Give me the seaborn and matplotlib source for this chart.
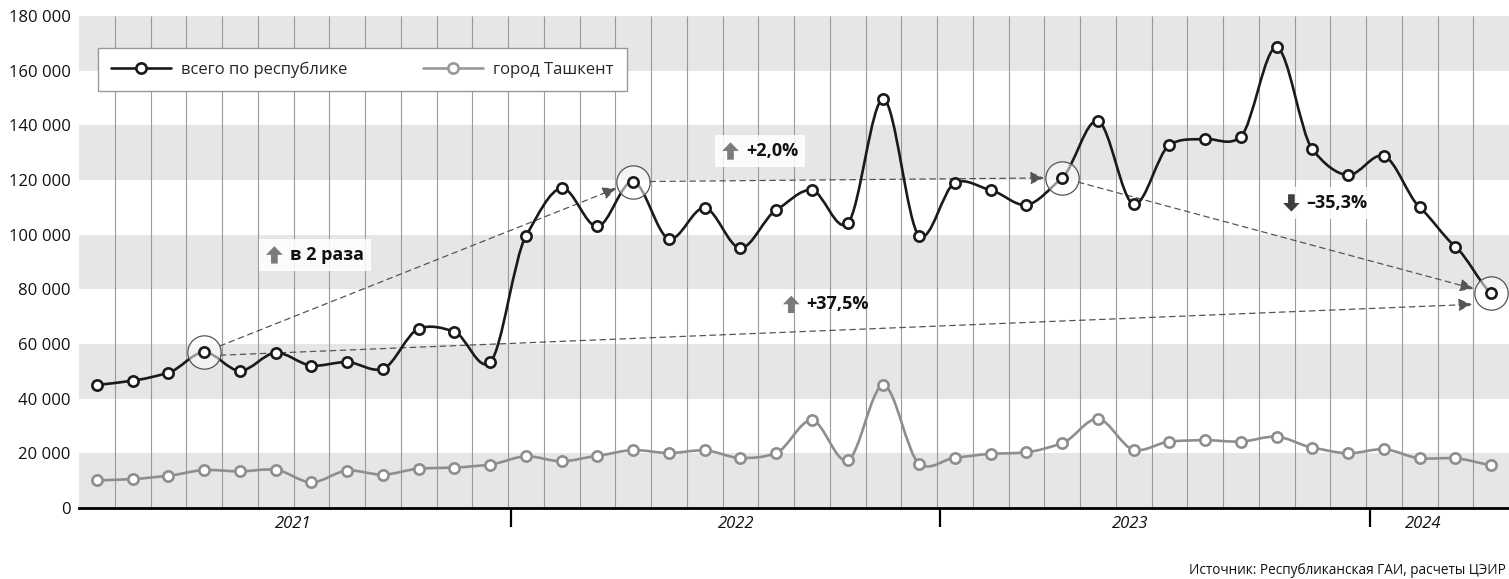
import numpy as np
import pandas as pd
import seaborn as sns
import matplotlib
matplotlib.use("Agg")
import matplotlib.pyplot as plt
from matplotlib.path import Path
from matplotlib.patches import PathPatch, Polygon
from matplotlib.lines import Line2D
from matplotlib.offsetbox import DrawingArea, TextArea, HPacker, AnnotationBbox
from matplotlib.ticker import FuncFormatter

# monthly values, Jan 2021 .. Apr 2024
total = [45000, 46600, 49500, 57000, 50200, 56800, 52100, 53400, 50900, 65600, 64500, 53300,
         99500, 117000, 103000, 119400, 98500, 109800, 95100, 109000, 116300, 104100, 149600, 99600,
         119000, 116300, 110900, 120800, 141600, 111100, 132800, 135000, 135900, 168500, 131200, 121800,
         128800, 110000, 95600, 78500]
tashkent = [10100, 10600, 11800, 13900, 13400, 14000, 9400, 13700, 12200, 14400, 14800, 15900,
            18900, 17100, 19100, 21200, 20100, 21100, 18300, 20100, 32100, 17400, 44900, 16200,
            18400, 19800, 20400, 23700, 32600, 21300, 24300, 24800, 24300, 26100, 22100, 20000,
            21500, 18200, 18200, 15700]
series_names = ["всего по республике", "город Ташкент"]
years = ["2021", "2022", "2023", "2024"]
year_label_pos = [5.5, 17.87, 28.9, 37.1]
year_bounds = [11.58, 23.58, 35.6]
april = [3, 15, 27, 39]
source = "Источник: Республиканская ГАИ, расчеты ЦЭИР"

# badge: x (month index), y, text, direction, boxed
badges = [(4.73, 92600, "в 2 раза", "up", True),
          (17.49, 130600, "+2,0%", "up", True),
          (19.19, 74500, "+37,5%", "up", False),
          (33.18, 111600, "–35,3%", "down", True)]

BLACK = "#1a1a1a"
GREY = "#8e8e8e"

sns.set_style("white")
plt.rcParams["font.family"] = ["Open Sans", "DejaVu Sans"]

x = np.arange(len(total))
df = pd.DataFrame({"m": x, "total": total, "tashkent": tashkent})


def spline_path(xs, ys, f=0.7):
    xs = np.asarray(xs, float)
    ys = np.asarray(ys, float)
    m = np.empty(len(xs))
    m[1:-1] = (ys[2:] - ys[:-2]) / (xs[2:] - xs[:-2])
    m[0] = (ys[1] - ys[0]) / (xs[1] - xs[0])
    m[-1] = (ys[-1] - ys[-2]) / (xs[-1] - xs[-2])
    m *= f
    verts = [(xs[0], ys[0])]
    codes = [Path.MOVETO]
    for i in range(len(xs) - 1):
        h = xs[i + 1] - xs[i]
        verts += [(xs[i] + h / 3, ys[i] + m[i] * h / 3),
                  (xs[i + 1] - h / 3, ys[i + 1] - m[i + 1] * h / 3),
                  (xs[i + 1], ys[i + 1])]
        codes += [Path.CURVE4] * 3
    return Path(verts, codes)


fig = plt.figure(figsize=(15.09, 5.79), dpi=100)
ax = fig.add_axes([0.0524, 0.1226, 0.9476, 0.8498])
ax.set_xlim(-0.5, len(total) - 0.5)
ax.set_ylim(0, 180000)

for lo in range(0, 180000, 40000):
    ax.axhspan(lo, lo + 20000, color="#e6e6e6", lw=0, zorder=0)
ax.vlines(np.arange(0.5, len(total) - 0.5, 1), 0, 180000, colors="#9a9a9a", lw=0.8, zorder=1)

# dashed comparison arrows
arrow_kw = dict(arrowstyle="-|>,head_length=0.55,head_width=0.25", ls=(0, (4.5, 3.5)),
                lw=0.9, color="#555555", mutation_scale=15)
for a, b in [(april[0], april[1]), (april[1], april[2]), (april[2], april[3])]:
    ax.annotate("", xy=(b, total[b]), xytext=(a, total[a]), zorder=2,
                arrowprops=dict(shrinkA=12, shrinkB=13, **arrow_kw))
ax.annotate("", xy=(april[3] - 0.53, total[april[3]] - 4000),
            xytext=(april[0] + 0.45, total[april[0]] - 1100), zorder=2,
            arrowprops=dict(shrinkA=0, shrinkB=0, **arrow_kw))

# series
for col, colour in [("total", BLACK), ("tashkent", GREY)]:
    ax.add_patch(PathPatch(spline_path(df["m"], df[col]), fill=False, ec=colour, lw=1.9,
                           joinstyle="round", capstyle="round", zorder=4))
    sns.lineplot(data=df, x="m", y=col, ax=ax, color=colour, linewidth=0, marker="o",
                 markersize=7.4, markerfacecolor="white", markeredgecolor=colour,
                 markeredgewidth=1.9, zorder=6)

ax.scatter(x[april], np.array(total)[april], s=24 ** 2, facecolor=(1, 1, 1, 0.55),
           edgecolor="#555555", linewidth=0.9, zorder=5)


def badge(xv, yv, text, direction, boxed):
    da = DrawingArea(12, 12.5)
    if direction == "up":
        pts = [(6, 12.5), (12, 6.3), (8.4, 6.3), (8.4, 0), (3.6, 0), (3.6, 6.3), (0, 6.3)]
        fc = "#7b7b7b"
    else:
        pts = [(6, 0), (12, 6.2), (8.4, 6.2), (8.4, 12.5), (3.6, 12.5), (3.6, 6.2), (0, 6.2)]
        fc = "#3d3d3d"
    da.add_artist(Polygon(pts, closed=True, fc=fc, ec="none"))
    ta = TextArea(text, textprops=dict(fontsize=13, fontweight="bold", color="#111111"))
    box = HPacker(children=[da, ta], align="center", pad=0, sep=5)
    ab = AnnotationBbox(box, (xv, yv), xycoords="data", box_alignment=(0, 0.5),
                        frameon=boxed, pad=0.5,
                        bboxprops=dict(facecolor=(1, 1, 1, 0.85), edgecolor="none"))
    ab.set_zorder(3)
    ax.add_artist(ab)


for b in badges:
    badge(*b)

# axes styling
for s in ["left", "right", "top"]:
    ax.spines[s].set_visible(False)
ax.spines["bottom"].set_color("black")
ax.spines["bottom"].set_linewidth(2)
ax.spines["bottom"].set_zorder(7)

ax.set_yticks(range(0, 180001, 20000))
ax.yaxis.set_major_formatter(FuncFormatter(lambda v, p: f"{int(v):,}".replace(",", " ")))
ax.tick_params(axis="y", length=0, pad=6, labelsize=12, labelcolor="#111111")

ax.set_xticks(year_bounds)
ax.set_xticklabels([])
ax.set_xticks(year_label_pos, minor=True)
ax.set_xticklabels(years, minor=True, fontstyle="italic", fontsize=12, color="#111111")
ax.tick_params(axis="x", which="major", bottom=True, direction="out", length=13.7,
               width=1.6, color="black")
ax.tick_params(axis="x", which="minor", bottom=True, length=0, pad=6)
ax.set_xlabel("")
ax.set_ylabel("")

handles = [Line2D([], [], color=BLACK, lw=1.9, marker="o", ms=7.4, mfc="white", mec=BLACK, mew=1.9),
           Line2D([], [], color="#999999", lw=1.9, marker="o", ms=7.4, mfc="white", mec="#999999", mew=1.9)]
leg = ax.legend(handles, series_names, loc="upper left", bbox_to_anchor=(0.0133, 0.935),
                ncol=2, frameon=True, fancybox=False, edgecolor="#999999", framealpha=1,
                fontsize=12, handlelength=3.6, handletextpad=0.6, columnspacing=4.5,
                borderpad=0.8, borderaxespad=0)
leg.get_frame().set_linewidth(1.0)
leg.set_zorder(8)

fig.text(0.998, 0.0155, source, ha="right", va="center", fontsize=9.8, color="#111111")

fig.savefig("out.png", dpi=100)
